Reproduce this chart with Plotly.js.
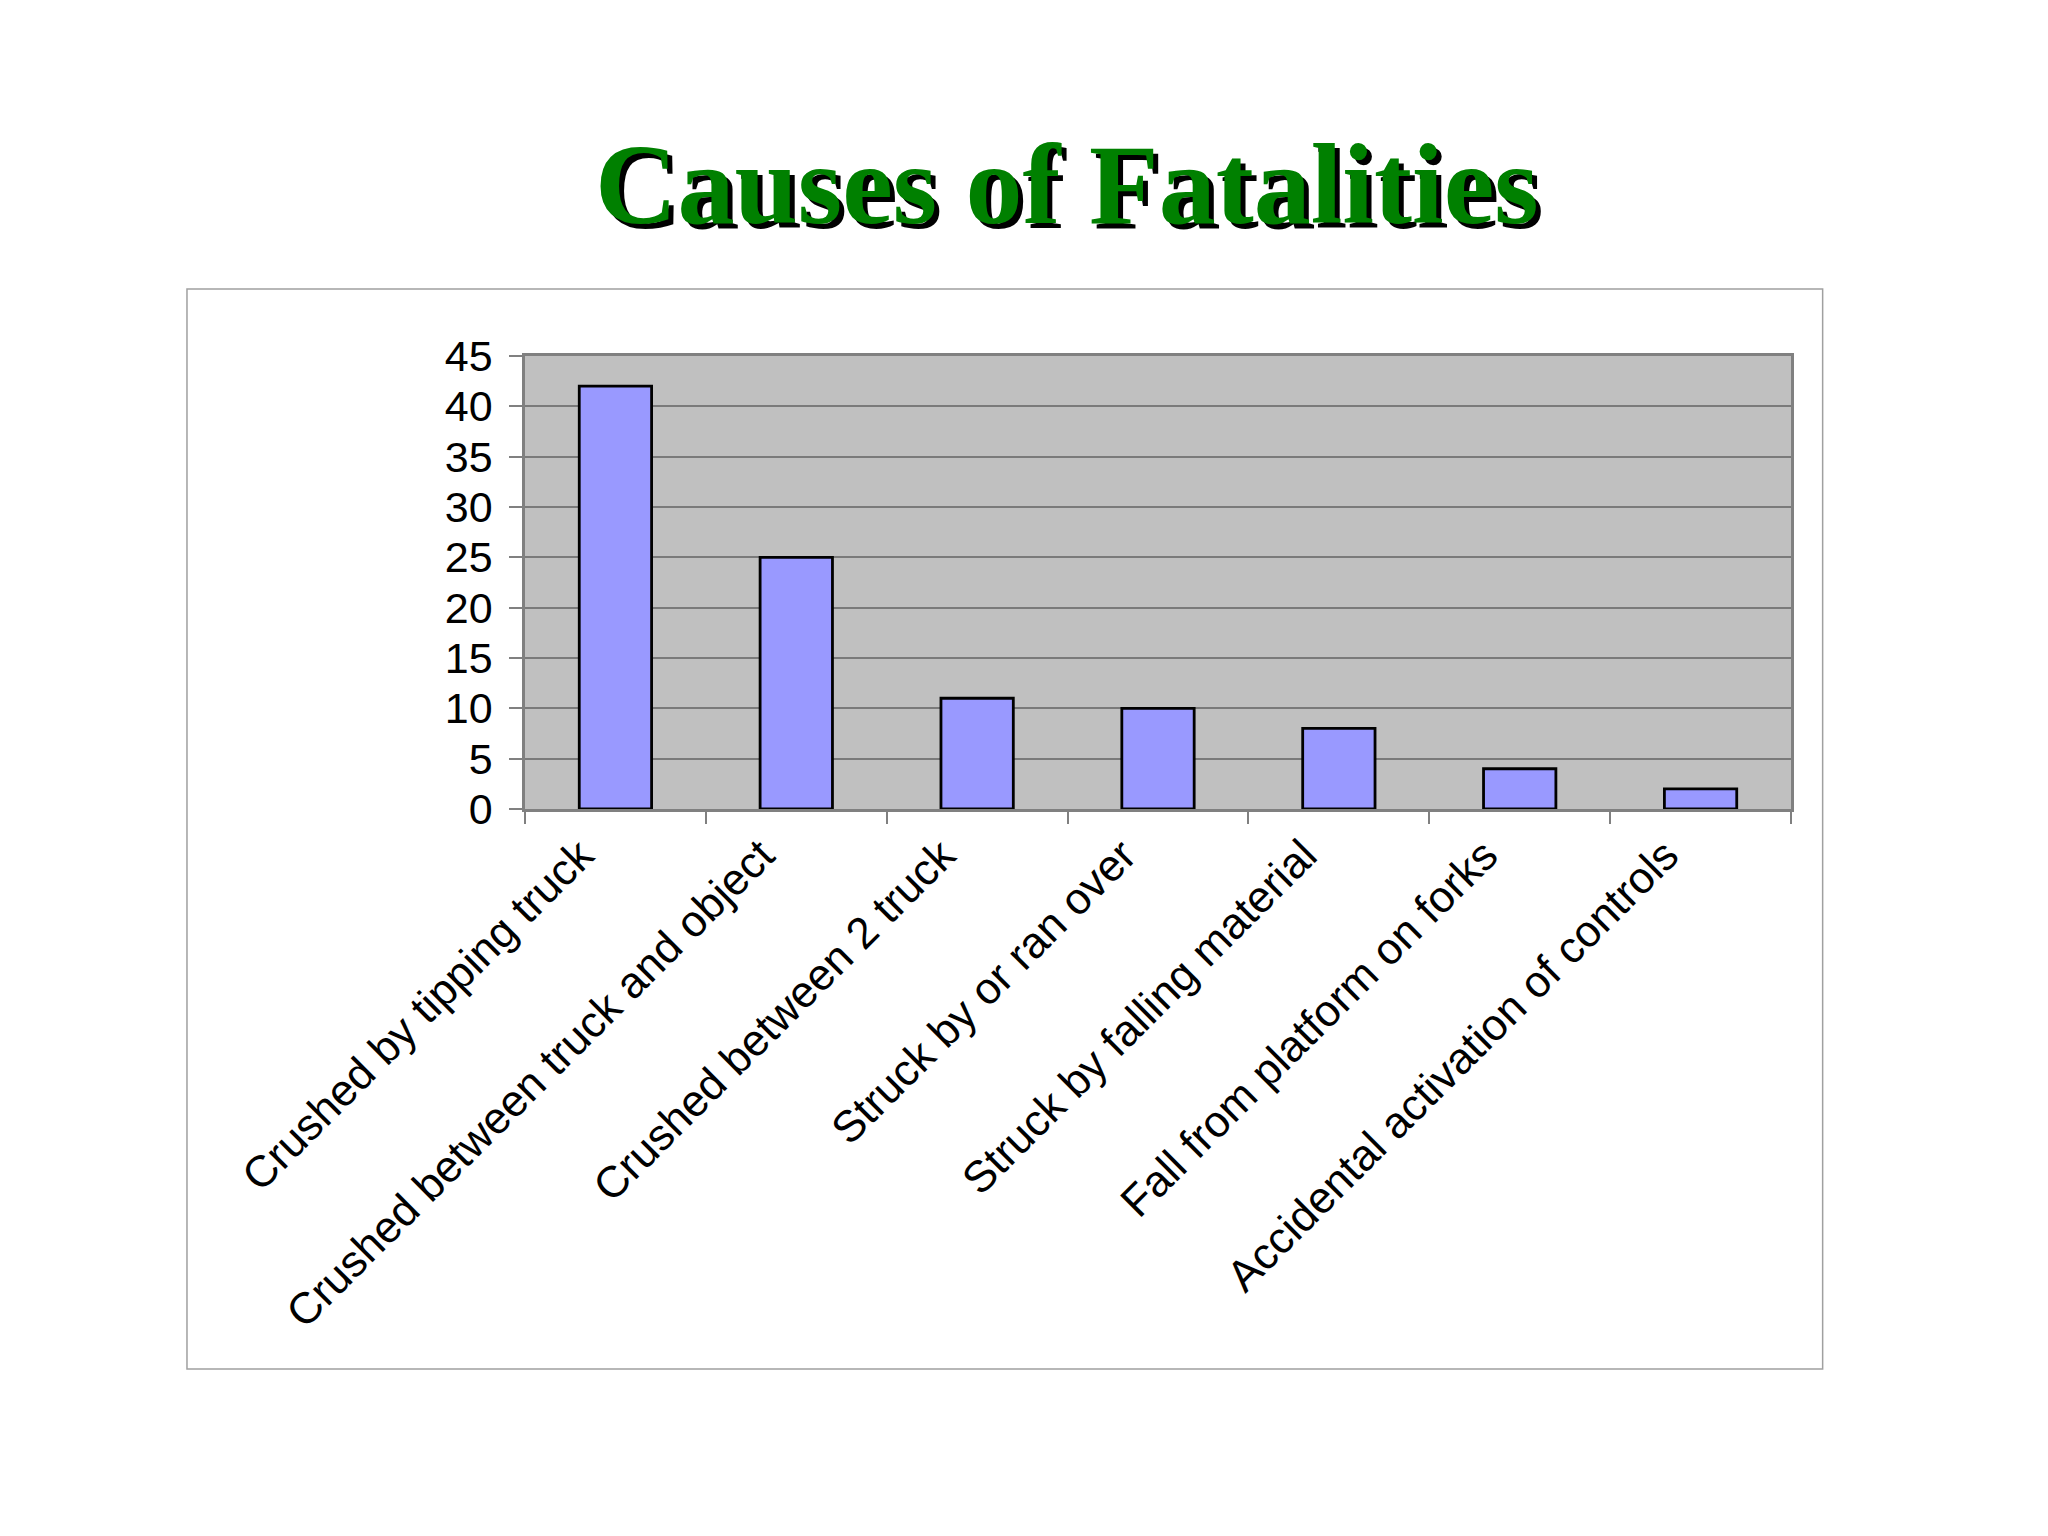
<!DOCTYPE html>
<html>
<head>
<meta charset="utf-8">
<script src="https://cdn.plot.ly/plotly-3.0.1.min.js"></script>
<style>
  html, body { margin: 0; padding: 0; background: #ffffff; }
  #chart_area { width: 2048px; height: 1536px; }
</style>
</head>
<body>
<div id="chart_area"></div>
<script>
var causes = [
  'Crushed by tipping truck',
  'Crushed between truck and object',
  'Crushed between 2 truck',
  'Struck by or ran over',
  'Struck by falling material',
  'Fall from platform on forks',
  'Accidental activation of controls'
];
var fatalities = [42, 25, 11, 10, 8, 4, 2];
var yTicks = [0, 5, 10, 15, 20, 25, 30, 35, 40, 45];

var trace0 = {
  type: 'bar',
  x: causes,
  y: fatalities,
  width: 0.4,
  marker: { color: '#9999ff', line: { color: '#000000', width: 2.8 } },
  hoverinfo: 'x+y'
};

var layout = {
  width: 2048,
  height: 1536,
  showlegend: false,
  paper_bgcolor: '#ffffff',
  plot_bgcolor: '#c0c0c0',
  margin: { l: 525, r: 257, t: 356, b: 727, pad: 0 },
  font: { family: 'Liberation Sans, Arial, sans-serif', color: '#000000' },
  title: {
    text: 'Causes of Fatalities',
    font: {
      family: 'Liberation Serif, Times New Roman, serif',
      size: 114,
      weight: 'bold',
      color: '#008000',
      shadow: '5px 5px 0px #000000'
    },
    xref: 'paper', x: 0.428, xanchor: 'center',
    yref: 'container', y: 0.881, yanchor: 'middle'
  },
  xaxis: {
    type: 'category',
    tickangle: -45,
    tickfont: { size: 44 },
    ticklabelshift: -35,
    ticks: 'outside',
    tickson: 'boundaries',
    ticklen: 12,
    tickcolor: '#808080',
    tickwidth: 1.5,
    showgrid: false,
    zeroline: false,
    showline: true,
    linecolor: '#808080',
    linewidth: 2.5,
    mirror: true
  },
  yaxis: {
    range: [0, 45],
    tickvals: yTicks,
    ticktext: yTicks.map(String),
    tickfont: { size: 43 },
    ticklabelstandoff: 8,
    ticks: 'outside',
    ticklen: 13,
    tickcolor: '#808080',
    tickwidth: 1.5,
    showgrid: true,
    gridcolor: '#7a7a7a',
    gridwidth: 1.5,
    zeroline: false,
    showline: true,
    linecolor: '#808080',
    linewidth: 2.5,
    mirror: true
  },
  shapes: [
    {
      type: 'rect', xref: 'paper', yref: 'paper', layer: 'below',
      x0: -0.267, x1: 1.025, y0: -1.236, y1: 1.148,
      line: { color: '#a0a0a0', width: 1.5 }, fillcolor: 'rgba(0,0,0,0)'
    }
  ]
};

var config = { responsive: false, displayModeBar: false };

Plotly.newPlot('chart_area', [trace0], layout, config);
</script>
</body>
</html>
